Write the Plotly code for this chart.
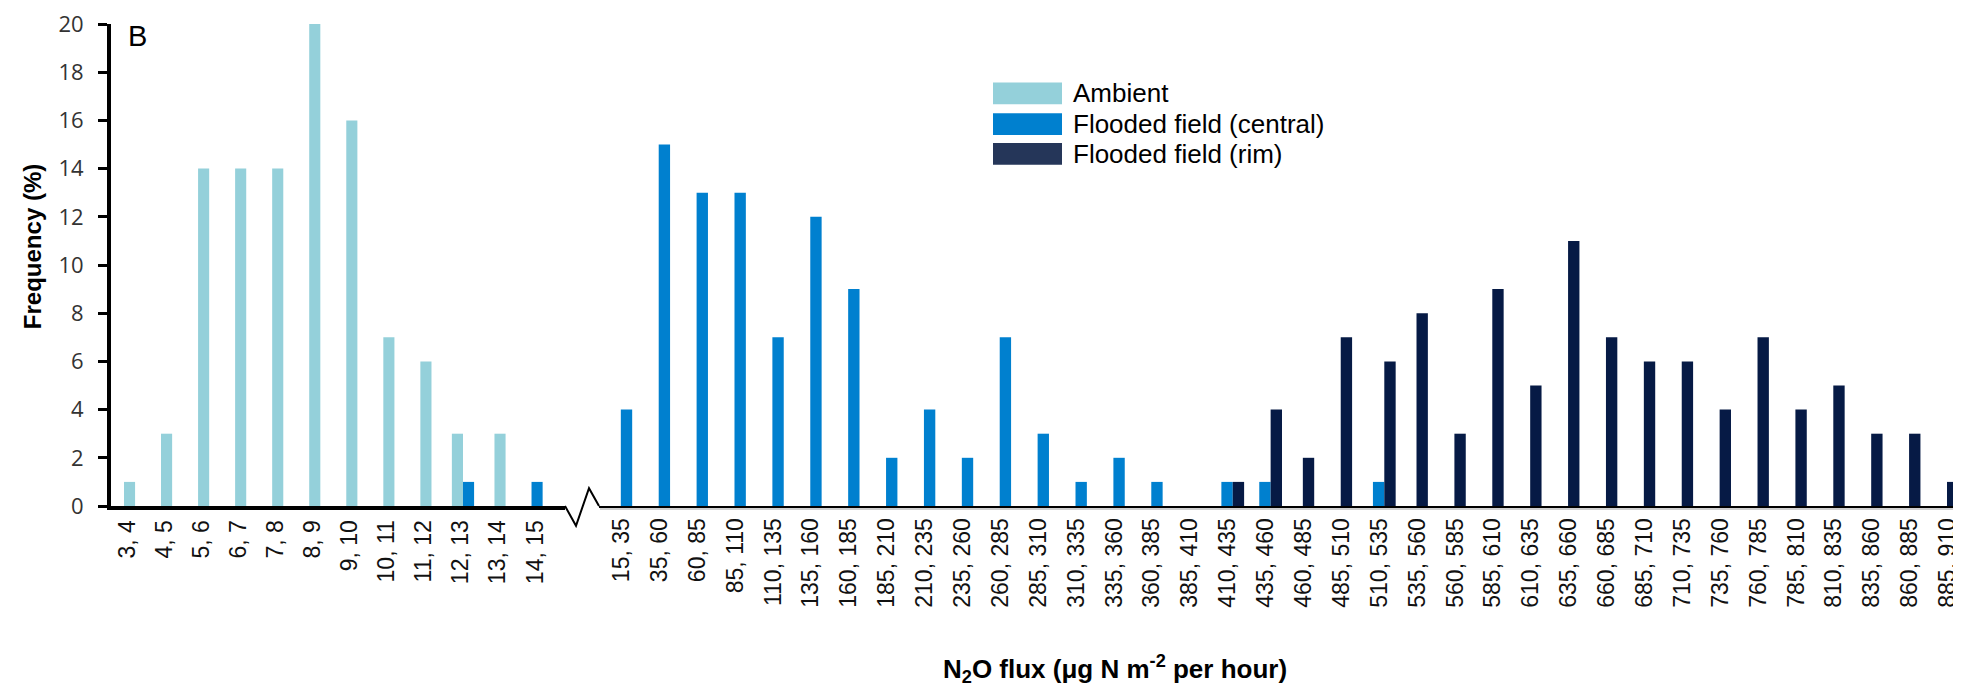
import plotly.graph_objects as go

# ---------------- data ----------------
left_bins = ["3, 4", "4, 5", "5, 6", "6, 7", "7, 8", "8, 9", "9, 10",
             "10, 11", "11, 12", "12, 13", "13, 14", "14, 15"]
right_bins = ["15, 35", "35, 60", "60, 85", "85, 110", "110, 135", "135, 160",
              "160, 185", "185, 210", "210, 235", "235, 260", "260, 285",
              "285, 310", "310, 335", "335, 360", "360, 385", "385, 410",
              "410, 435", "435, 460", "460, 485", "485, 510", "510, 535",
              "535, 560", "560, 585", "585, 610", "610, 635", "635, 660",
              "660, 685", "685, 710", "710, 735", "735, 760", "760, 785",
              "785, 810", "810, 835", "835, 860", "860, 885", "885, 910"]

ambient_left = [1, 3, 14, 14, 14, 20, 16, 7, 6, 3, 3, 0]
central_left = [0, 0, 0, 0, 0, 0, 0, 0, 0, 1, 0, 1]
central_right = [4, 15, 13, 13, 7, 12, 9, 2, 4, 2, 7, 3, 1, 2, 1, 0, 1, 1,
                 0, 0, 1, 0, 0, 0, 0, 0, 0, 0, 0, 0, 0, 0, 0, 0, 0, 0]
rim_right = [0, 0, 0, 0, 0, 0, 0, 0, 0, 0, 0, 0, 0, 0, 0, 0, 1, 4,
             2, 7, 6, 8, 3, 9, 5, 11, 7, 6, 6, 4, 7, 4, 5, 3, 3, 1]

names = ["Ambient", "Flooded field (central)", "Flooded field (rim)"]
colors = ["#94D0DA", "#0080CF", "#061A45"]
legend_colors = ["#94D0DA", "#0080CF", "#253659"]

# ---------------- layout helpers ----------------
# The page body has an 8px default margin, so the figure sits at (8, 8)
# on screen. Screen (reference) coordinates are converted accordingly.
OFF = 8
W, H = 1961 - OFF, 690 - OFF
ML = 111 - OFF           # y-axis line at screen x = 111
MT = 20 - OFF            # y = 20 at screen y = 20
PLOT_BOTTOM = 506 - OFF  # y = 0 at screen y = 506
MB = H - PLOT_BOTTOM
MR = 0
PW = W - ML - MR
PH = H - MT - MB


def px(x):
    return (x - OFF - ML) / PW


def py(y):
    return (PLOT_BOTTOM - (y - OFF)) / PH


BW = 0.3  # bar width in category units


def offsets(series_list):
    """Centre the non-zero bars of each category side by side."""
    n_cat = len(series_list[0])
    out = [[-BW / 2] * n_cat for _ in series_list]
    for c in range(n_cat):
        idx = [i for i, s in enumerate(series_list) if s[c] > 0]
        start = -len(idx) * BW / 2
        for k, i in enumerate(idx):
            out[i][c] = start + k * BW
    return out


off_left = offsets([ambient_left, central_left])
off_right = offsets([central_right, rim_right])

fig = go.Figure()

fig.add_trace(go.Bar(x=left_bins, y=ambient_left, name=names[0],
                     marker=dict(color=colors[0], line=dict(width=0)),
                     width=BW, offset=off_left[0], xaxis="x", yaxis="y"))
fig.add_trace(go.Bar(x=left_bins, y=central_left, name=names[1],
                     marker=dict(color=colors[1], line=dict(width=0)),
                     width=BW, offset=off_left[1], xaxis="x", yaxis="y"))
fig.add_trace(go.Bar(x=right_bins, y=central_right, name=names[1],
                     marker=dict(color=colors[1], line=dict(width=0)),
                     width=BW, offset=off_right[0], xaxis="x2", yaxis="y"))
fig.add_trace(go.Bar(x=right_bins, y=rim_right, name=names[2],
                     marker=dict(color=colors[2], line=dict(width=0)),
                     width=BW, offset=off_right[1], xaxis="x2", yaxis="y"))

tickfont = dict(family="Liberation Sans, Arial", size=23, color="#111")

# left x-axis: category 0 centred at screen x 129.5, spacing ~37.05 px
left_end = 565
right_start = 599
left_range_end = -0.5 + (left_end - 111) / 37.05
right_cat0 = 626.5
right_sp = 37.89
right_range = [-(right_cat0 - right_start) / right_sp,
               (1961 - right_cat0) / right_sp]

fig.update_layout(
    width=W, height=H,
    margin=dict(l=ML, r=MR, t=MT, b=MB, pad=0),
    paper_bgcolor="white", plot_bgcolor="white",
    barmode="overlay",
    showlegend=False,
    xaxis=dict(domain=[0, px(left_end)], type="category",
               range=[-0.5, left_range_end],
               categoryorder="array", categoryarray=left_bins,
               showline=True, linewidth=4, linecolor="black",
               showgrid=False, zeroline=False, ticks="", tickangle=-90,
               tickfont=tickfont, ticklabelstandoff=1, anchor="y",
               ticklabelshift=-2, ticklabeloverflow="allow"),
    xaxis2=dict(domain=[px(right_start), 1], type="category",
                range=right_range,
                categoryorder="array", categoryarray=right_bins,
                showline=True, linewidth=2, linecolor="black",
                showgrid=False, zeroline=False, ticks="", tickangle=-90,
                tickfont=tickfont, ticklabelstandoff=1, anchor="y",
                ticklabelshift=-5, ticklabeloverflow="allow"),
    yaxis=dict(range=[0, 20], dtick=2, showline=True, linewidth=4,
               linecolor="black", ticks="outside", ticklen=9, tickwidth=3,
               tickcolor="black", showgrid=False, zeroline=False,
               tickfont=dict(family="Open Sans, Lato", size=22, color="#333"),
               ticklabelstandoff=10, ticklabeloverflow="allow"),
)

# axis break zig-zag and faint shadow line
zig = [(565, 506), (576, 526), (589, 488), (599, 506)]
path = "M " + " L ".join(f"{px(x):.5f},{py(y):.5f}" for x, y in zig)
fig.add_shape(type="path", path=path, xref="paper", yref="paper",
              line=dict(color="black", width=2))
fig.add_shape(type="line", xref="paper", yref="paper",
              x0=px(600), x1=1, y0=py(509), y1=py(509),
              line=dict(color="#d0d0d0", width=2), layer="below")

# custom legend
legend_rows = [90, 121, 151]
for name, col, yc in zip(names, legend_colors, legend_rows):
    fig.add_shape(type="rect", xref="paper", yref="paper",
                  x0=px(993), x1=px(1062), y0=py(yc - 11), y1=py(yc + 11),
                  fillcolor=col, line=dict(width=0))
    fig.add_annotation(text=name, xref="paper", yref="paper",
                       x=px(1071), y=py(yc), xanchor="left", yanchor="middle",
                       showarrow=False,
                       font=dict(family="Liberation Sans, Arial", size=26,
                                 color="black"))

# panel label
fig.add_annotation(text="B", xref="paper", yref="paper", x=px(126), y=py(32),
                   xanchor="left", yanchor="middle", showarrow=False,
                   font=dict(family="Liberation Sans, Arial", size=29,
                             color="black"))

# axis titles
fig.add_annotation(text="<b>Frequency (%)</b>", xref="paper", yref="paper",
                   x=px(32), y=py(245), xanchor="center", yanchor="middle",
                   textangle=-90, showarrow=False,
                   font=dict(family="Liberation Sans, Arial", size=24,
                             color="black"))
fig.add_annotation(text="<b>N<sub>2</sub>O flux (μg N m<sup>-2</sup> per hour)</b>",
                   xref="paper", yref="paper", x=px(1115), y=py(670),
                   xanchor="center", yanchor="middle", showarrow=False,
                   font=dict(family="Liberation Sans, Arial", size=26,
                             color="black"))

fig.write_html("out.html")
